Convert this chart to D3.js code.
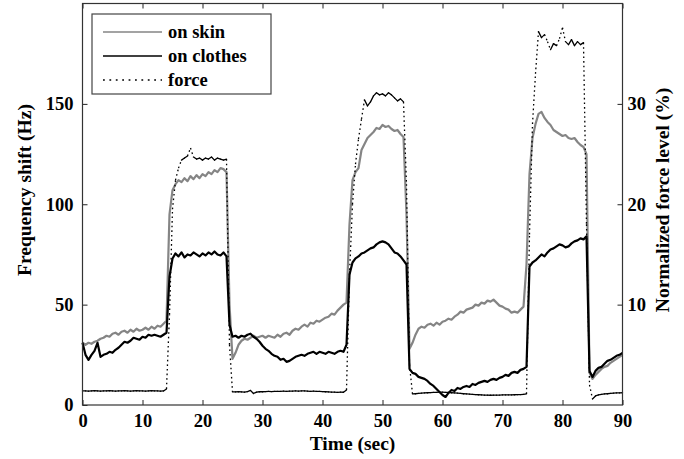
<!DOCTYPE html>
<html>
<head>
<meta charset="utf-8">
<script src="https://cdn.jsdelivr.net/npm/d3@7"></script>
<style>
	body { margin: 0; background: #fff; }
	svg text { font-family: "Liberation Serif", "Times New Roman", serif; font-weight: bold; fill: #000; }
</style>
</head>
<body>
<script>
	// sample clock of the recording, one reading every 0.5 s
	var time = d3.range(0, 90.5, 0.5);

	// frequency shift, Hz (left axis)
	var onSkin = [
		31, 30, 31, 30.5, 31.5, 32, 33, 33.5, 34.5, 34,
		35.5, 36, 35, 36.5, 37, 36, 37.5, 36.5, 38, 37,
		37.5, 38.5, 37.5, 39, 38, 39.5, 39, 40.5, 42, 95,
		107, 110, 112, 111, 113, 111.5, 114, 112.5, 114.5, 113,
		115, 114, 116, 115, 117, 116, 118, 117.5, 116, 50,
		23, 26, 30, 32, 33, 32.5, 33.5, 34.5, 33.5, 34,
		34.5, 33.5, 34.5, 34, 33.5, 35, 34, 35.5, 36, 35,
		37, 38, 37.5, 39, 40, 39, 41, 40.5, 42, 41.5,
		42.5, 43.5, 44, 45.5, 45, 47, 48.5, 50, 51, 90,
		112, 116, 118, 127, 130, 133, 134.5, 136, 138, 137.5,
		139.5, 138.5, 139, 137.5, 136.5, 137, 135, 133.5, 95, 28,
		31, 35, 38, 39, 38.5, 40, 40.5, 39.5, 41, 40,
		41.5, 42, 43, 42.5, 44, 45, 46.5, 46, 47.5, 48,
		48.5, 50, 49.5, 51, 50.5, 52, 51.5, 52.5, 51, 49.5,
		49, 48, 47.5, 46, 46.5, 46, 47.5, 49, 70, 115,
		133, 140, 145, 146, 143, 141, 139.5, 137, 136, 135,
		134, 134.5, 133, 132.5, 133, 131, 129.5, 128.5, 125, 16,
		13, 15, 16.5, 18, 19, 19.5, 21, 22, 23, 24,
		25
	];

	var onClothes = [
		31, 25, 22.5, 25, 27, 31, 24, 25, 25.5, 26.5,
		26, 27.5, 28.5, 30, 31.5, 31, 32, 33.5, 33, 32.5,
		34, 33.5, 35, 34.5, 35, 34.5, 34, 35, 36, 64,
		73, 75.5, 74, 76, 73.5, 75, 74.5, 76, 75, 74,
		75.5, 74.5, 76, 75, 76.5, 75, 74.5, 76, 74, 40,
		34, 34.5, 33.5, 34.5, 34, 35, 35.5, 34, 33, 31.5,
		29.5, 28, 27, 25.5, 24.5, 24, 22.5, 23, 21.5, 22,
		23, 24, 24.5, 25, 24.5, 25.5, 26, 26.5, 25.5, 26.5,
		26, 25.5, 26.5, 26, 25.5, 26.5, 27, 26.5, 30, 65,
		71, 73, 74, 75.5, 76, 77, 78, 78.5, 80, 81,
		81.5, 81, 80, 78, 76, 75.5, 74, 72, 70, 18,
		16, 15.5, 14, 13.5, 13, 12, 10.5, 9.5, 8, 6.5,
		5, 4, 6, 7.5, 7, 8.5, 8, 9, 9.5, 9,
		10.5, 10, 11, 11.5, 12, 11.5, 12.5, 13, 12.5, 13.5,
		14, 15, 14.5, 16, 16.5, 16, 17.5, 18, 19, 69,
		71, 72, 73.5, 75, 74, 76, 77.5, 78, 79, 80,
		79.5, 78.5, 79, 80.5, 81.5, 82, 83, 82.5, 84, 17,
		14, 17, 18.5, 19, 20.5, 22, 22.5, 23.5, 24.5, 25,
		26
	];

	// normalized force level, % (right axis)
	var force = [
		1.4, 1.4, 1.38, 1.4, 1.42, 1.4, 1.38, 1.4, 1.4, 1.42,
		1.4, 1.38, 1.4, 1.4, 1.42, 1.4, 1.38, 1.4, 1.42, 1.4,
		1.4, 1.38, 1.4, 1.42, 1.4, 1.4, 1.38, 1.4, 1.6, 9,
		19.5, 22.4, 23.6, 24.4, 24.6, 24.8, 25.6, 24.7, 24.5, 24.6,
		24.4, 24.6, 24.5, 24.7, 24.4, 24.6, 24.5, 24.4, 24.5, 6,
		1.3, 1.3, 1.32, 1.3, 1.28, 1.34, 1.45, 1.15, 1.28, 1.32,
		1.32, 1.34, 1.35, 1.34, 1.36, 1.35, 1.36, 1.38, 1.36, 1.38,
		1.38, 1.4, 1.38, 1.4, 1.4, 1.38, 1.36, 1.38, 1.36, 1.35,
		1.34, 1.32, 1.3, 1.28, 1.28, 1.26, 1.28, 1.27, 1.5, 13,
		20, 24, 26.5, 28.5, 30.4, 29.8, 30.2, 30.8, 31.1, 30.9,
		31, 30.8, 31.1, 30.9, 30.6, 30.3, 30.5, 30.2, 22, 4,
		1.1, 1.12, 1.15, 1.18, 1.2, 1.22, 1.24, 1.25, 1.26, 1.28,
		1.28, 1.26, 1.25, 1.22, 1.2, 1.18, 1.15, 1.12, 1.1, 1.08,
		1.05, 1.04, 1.02, 1.0, 0.98, 0.98, 0.97, 0.98, 0.98, 0.99,
		1.0, 1.0, 1.01, 1.0, 1.02, 1.03, 1.04, 1.05, 1.1, 17,
		28, 33, 37.2, 36.6, 36.9, 36.2, 35.4, 36, 35.8, 36.5,
		37.6, 36.2, 35.9, 36.4, 35.8, 36.2, 35.9, 36.1, 18, 2,
		0.6, 0.9, 1.0, 1.05, 1.1, 1.12, 1.15, 1.18, 1.2, 1.2,
		1.22
	];

	var xTicks = [0, 10, 20, 30, 40, 50, 60, 70, 80, 90];
	var yLeftTicks = [0, 50, 100, 150];
	var yRightTicks = [10, 20, 30];
	var legendLabels = ["on skin", "on clothes", "force"];

(function() {
	var width = 684, height = 459;
	var pLeft = 82.5, pRight = 622.5, pTop = 3.5, pBottom = 405;

	var svg = d3.select("body").append("svg")
		.attr("width", width)
		.attr("height", height);

	var x = d3.scaleLinear().domain([0, 90]).range([pLeft, pRight]);
	var yL = d3.scaleLinear().domain([0, 200]).range([pBottom, pTop]);
	var yR = d3.scaleLinear().domain([0, 40]).range([pBottom, pTop]);

	// series
	var line = d3.line()
		.x(function(d, i) { return x(time[i]); })
		.y(function(d) { return yL(d); });

	svg.append("path")
		.datum(onSkin)
		.attr("fill", "none")
		.attr("stroke", "#858585")
		.attr("stroke-width", 2.2)
		.attr("stroke-linejoin", "round")
		.attr("d", line);

	svg.append("path")
		.datum(onClothes)
		.attr("fill", "none")
		.attr("stroke", "#000")
		.attr("stroke-width", 2.2)
		.attr("stroke-linejoin", "round")
		.attr("d", line);

	// force: dotted pattern restarts on each sample segment, so the dense
	// plateaus look solid and only the long jumps show as dots
	var pairs = force.slice(1).map(function(d, i) {
		return { x1: x(time[i]), y1: yR(force[i]), x2: x(time[i + 1]), y2: yR(d) };
	});
	var segLen = function(d) { return Math.hypot(d.x2 - d.x1, d.y2 - d.y1); };

	svg.selectAll("line.force")
		.data(pairs)
		.enter()
		.append("line")
		.attr("class", "force")
		.attr("x1", function(d) { return d.x1; })
		.attr("y1", function(d) { return d.y1; })
		.attr("x2", function(d) { return d.x2; })
		.attr("y2", function(d) { return d.y2; })
		.attr("stroke", "#000")
		.attr("stroke-width", 1.3)
		.attr("stroke-dasharray", function(d) { return segLen(d) > 7 ? "1.6,3" : null; })
		.attr("stroke-linecap", function(d) { return segLen(d) > 7 ? "butt" : "round"; });

	// axes, ticks pointing inward
	var gB = svg.append("g")
		.attr("transform", "translate(0," + pBottom + ")")
		.call(d3.axisBottom(x).tickValues(xTicks).tickSize(-5).tickPadding(9));
	var gT = svg.append("g")
		.attr("transform", "translate(0," + pTop + ")")
		.call(d3.axisTop(x).tickValues(xTicks).tickSize(-5).tickFormat(""));
	var gL = svg.append("g")
		.attr("transform", "translate(" + pLeft + ",0)")
		.call(d3.axisLeft(yL).tickValues(yLeftTicks).tickSize(-5).tickPadding(9));
	var gR = svg.append("g")
		.attr("transform", "translate(" + pRight + ",0)")
		.call(d3.axisRight(yR).tickValues(yRightTicks).tickSize(-5).tickPadding(5));

	[gB, gT, gL, gR].forEach(function(g) {
		g.select(".domain").remove();
		g.selectAll(".tick line").attr("stroke", "#222");
		g.selectAll("text").attr("font-size", 18.5).attr("font-family", null);
	});

	svg.append("rect")
		.attr("x", pLeft)
		.attr("y", pTop)
		.attr("width", pRight - pLeft)
		.attr("height", pBottom - pTop)
		.attr("fill", "none")
		.attr("stroke", "#333")
		.attr("stroke-width", 1.2);

	// axis titles
	svg.append("text")
		.attr("x", (pLeft + pRight) / 2)
		.attr("y", 450)
		.attr("text-anchor", "middle")
		.attr("font-size", 19.5)
		.text("Time (sec)");

	svg.append("text")
		.attr("transform", "translate(31,190) rotate(-90)")
		.attr("text-anchor", "middle")
		.attr("font-size", 19.5)
		.text("Frequency shift (Hz)");

	svg.append("text")
		.attr("transform", "translate(669,200) rotate(-90)")
		.attr("text-anchor", "middle")
		.attr("font-size", 19.5)
		.text("Normalized force level (%)");

	// legend
	var legend = svg.append("g");
	legend.append("rect")
		.attr("x", 92)
		.attr("y", 14)
		.attr("width", 179)
		.attr("height", 80)
		.attr("fill", "#fff")
		.attr("stroke", "#444")
		.attr("stroke-width", 1.2);

	var rows = legend.selectAll("g.row")
		.data(legendLabels)
		.enter()
		.append("g")
		.attr("class", "row")
		.attr("transform", function(d, i) { return "translate(0," + [32, 56, 80][i] + ")"; });

	rows.append("line")
		.attr("x1", 103)
		.attr("x2", 162)
		.attr("stroke", function(d, i) { return i === 0 ? "#858585" : "#000"; })
		.attr("stroke-width", 1.6)
		.attr("stroke-dasharray", function(d, i) { return i === 2 ? "1.8,4.6" : null; });

	rows.append("text")
		.attr("x", 168)
		.attr("y", 6)
		.attr("font-size", 18.5)
		.text(function(d) { return d; });
}());
</script>
</body>
</html>
